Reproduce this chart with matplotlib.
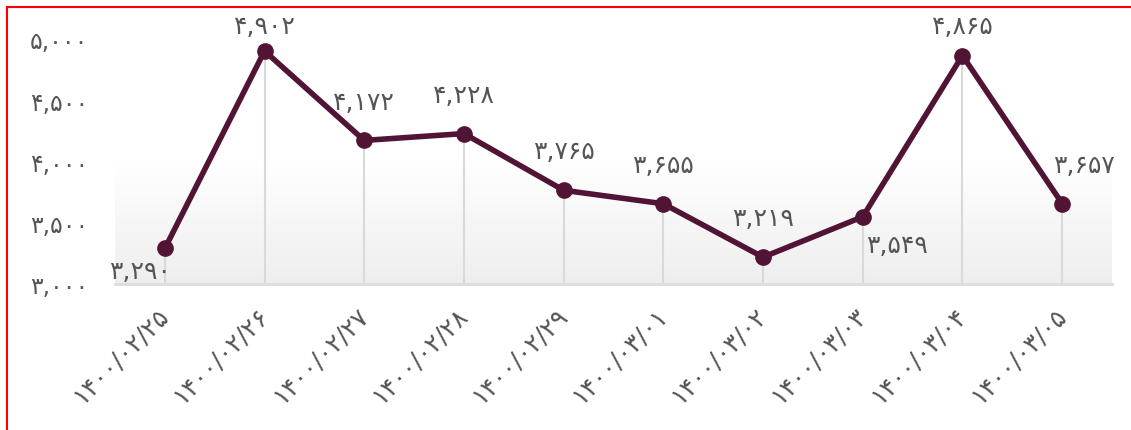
import matplotlib
matplotlib.use("Agg")
import matplotlib.pyplot as plt
import numpy as np
from matplotlib.lines import Line2D
from matplotlib.colors import LinearSegmentedColormap

plt.rcParams['font.family'] = ['DejaVu Sans']

# ---- data ----
dates = ["۱۴۰۰/۰۲/۲۵", "۱۴۰۰/۰۲/۲۶", "۱۴۰۰/۰۲/۲۷", "۱۴۰۰/۰۲/۲۸", "۱۴۰۰/۰۲/۲۹",
         "۱۴۰۰/۰۳/۰۱", "۱۴۰۰/۰۳/۰۲", "۱۴۰۰/۰۳/۰۳", "۱۴۰۰/۰۳/۰۴", "۱۴۰۰/۰۳/۰۵"]
values = [3290, 4902, 4172, 4228, 3765, 3655, 3219, 3549, 4865, 3657]
yticks = [3000, 3500, 4000, 4500, 5000]

# label offsets (points) for value labels
label_offsets = [(-18, -16), (0, 18), (0, 28), (0, 28), (0, 28),
                 (0, 28), (0, 28), (25, -20), (0, 21), (16, 28)]

FA = str.maketrans("0123456789", "۰۱۲۳۴۵۶۷۸۹")
def fa(n):
    return f"{n:,}".translate(FA)

W, H = 1131, 431
fig = plt.figure(figsize=(W / 100, H / 100), dpi=100)
fig.patch.set_facecolor("white")

# red frame lines (left and top)
fig.add_artist(Line2D([7 / W, 7 / W], [0, 1 - 8 / H], color="#ff0000", lw=1.5, transform=fig.transFigure))
fig.add_artist(Line2D([7 / W, 1], [1 - 8 / H, 1 - 8 / H], color="#ff0000", lw=1.5, transform=fig.transFigure))

left, right = 115 / W, 1112 / W
bottom, top = 1 - 285 / H, 1 - 40 / H
ax = fig.add_axes([left, bottom, right - left, top - bottom])

x = np.arange(len(values))
ax.set_xlim(-0.5, len(values) - 0.5)
ax.set_ylim(3000, 5000)

# gradient background
grad = np.linspace(0, 1, 256).reshape(-1, 1)
cmap = LinearSegmentedColormap.from_list("g", ["#ffffff", "#ffffff", "#eeeeee"])
ax.imshow(grad, aspect="auto", cmap=cmap, extent=(-0.5, len(values) - 0.5, 3000, 5000),
          origin="upper", zorder=0)

# drop lines
ax.vlines(x, 3000, values, color="#d9d9d9", lw=1.5, zorder=1)

ax.plot(x, values, color="#511435", lw=4, marker="o", markersize=11,
        solid_capstyle="round", zorder=3)

for xi, v, off in zip(x, values, label_offsets):
    ax.annotate(fa(v), (xi, v), xytext=off, textcoords="offset points",
                ha="center", va="center", fontsize=18, color="#555555", zorder=4)

for s in ["left", "right", "top"]:
    ax.spines[s].set_visible(False)
ax.spines["bottom"].set_color("#dcdcdc")
ax.spines["bottom"].set_linewidth(2)

ax.set_yticks(yticks)
ax.set_yticklabels([fa(t) for t in yticks], fontsize=17, color="#555555")
ax.tick_params(axis="y", length=0, pad=19)
ax.set_xticks(x)
ax.set_xticklabels(dates, rotation=45, ha="right", va="center", rotation_mode="anchor",
                   fontsize=18, color="#555555")
ax.tick_params(axis="x", length=0, pad=19)

fig.savefig("out.png", dpi=100)
